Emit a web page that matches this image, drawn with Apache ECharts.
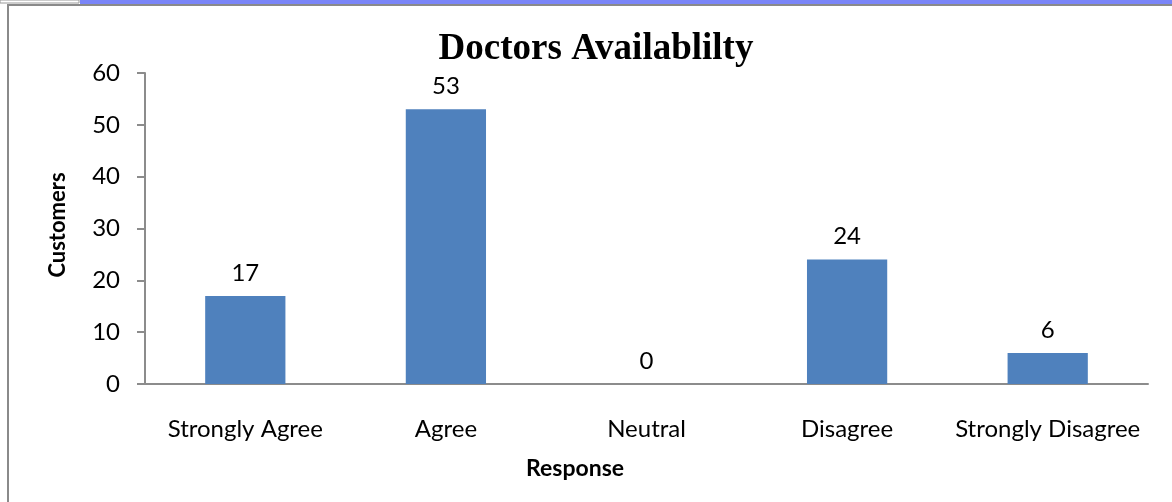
<!DOCTYPE html>
<html>
<head>
<meta charset="utf-8">
<style>
html,body{margin:0;padding:0;background:#fff;}
#chart{width:1172px;height:502px;}
</style>
<script src="https://cdn.jsdelivr.net/npm/echarts@6/dist/echarts.min.js"></script>
</head>
<body>
<div id="chart"></div>
<script>
const titleText = 'Doctors Availablilty';
const categories = ['Strongly Agree', 'Agree', 'Neutral', 'Disagree', 'Strongly Disagree'];
const customers = [17, 53, 0, 24, 6];
const yTicks = [0, 10, 20, 30, 40, 50, 60];
const xAxisTitle = 'Response';
const yAxisTitle = 'Customers';

const chart = echarts.init(document.getElementById('chart'));
const labelFont = 'Lato, "Noto Sans", sans-serif';
chart.setOption({
  animation: false,
  backgroundColor: '#ffffff',
  title: {
    text: titleText,
    left: 591,
    top: 26,
    textAlign: 'center',
    textStyle: { fontFamily: '"Liberation Serif", serif', fontWeight: 'bold', fontSize: 37, color: '#000' }
  },
  grid: { left: 145, right: 24, top: 73, bottom: 118, containLabel: false },
  xAxis: {
    type: 'category',
    data: categories,
    axisLine: { show: true, lineStyle: { color: '#8c8c8c', width: 2 } },
    axisTick: { show: false },
    axisLabel: { interval: 0, margin: 33, fontFamily: labelFont, fontSize: 24, color: '#000' }
  },
  yAxis: {
    type: 'value',
    min: yTicks[0],
    max: yTicks[yTicks.length - 1],
    interval: 10,
    splitLine: { show: false },
    axisLine: { show: true, lineStyle: { color: '#8c8c8c', width: 2 } },
    axisTick: { show: true, length: 8, lineStyle: { color: '#8c8c8c', width: 2 } },
    axisLabel: { margin: 25, fontFamily: labelFont, fontSize: 24, color: '#000' }
  },
  series: [{
    type: 'bar',
    data: customers,
    barWidth: '40%',
    itemStyle: { color: '#4F81BD' },
    label: { show: true, position: 'top', distance: 11, fontFamily: labelFont, fontSize: 24, color: '#000' }
  }],
  graphic: [
    { type: 'rect', shape: { x: 80, y: 0, width: 1092, height: 4 }, style: { fill: '#7A85F8' }, silent: true },
    { type: 'rect', shape: { x: 7, y: 4, width: 1165, height: 2 }, style: { fill: '#8a8a8a' }, silent: true },
    { type: 'rect', shape: { x: 7, y: 4, width: 2, height: 498 }, style: { fill: '#8a8a8a' }, silent: true },
    { type: 'rect', shape: { x: 0, y: 0, width: 79, height: 3 }, style: { fill: '#ffffff', stroke: '#9a9a9a', lineWidth: 1 }, silent: true },
    { type: 'text', x: 575, y: 469, style: { text: xAxisTitle, align: 'center', verticalAlign: 'middle', font: 'bold 23px Lato, "Noto Sans", sans-serif', fill: '#000' } },
    { type: 'text', x: 58, y: 225, rotation: Math.PI / 2, style: { text: yAxisTitle, align: 'center', verticalAlign: 'middle', font: 'bold 22px Lato, "Noto Sans", sans-serif', fill: '#000' } }
  ]
});
</script>
</body>
</html>
